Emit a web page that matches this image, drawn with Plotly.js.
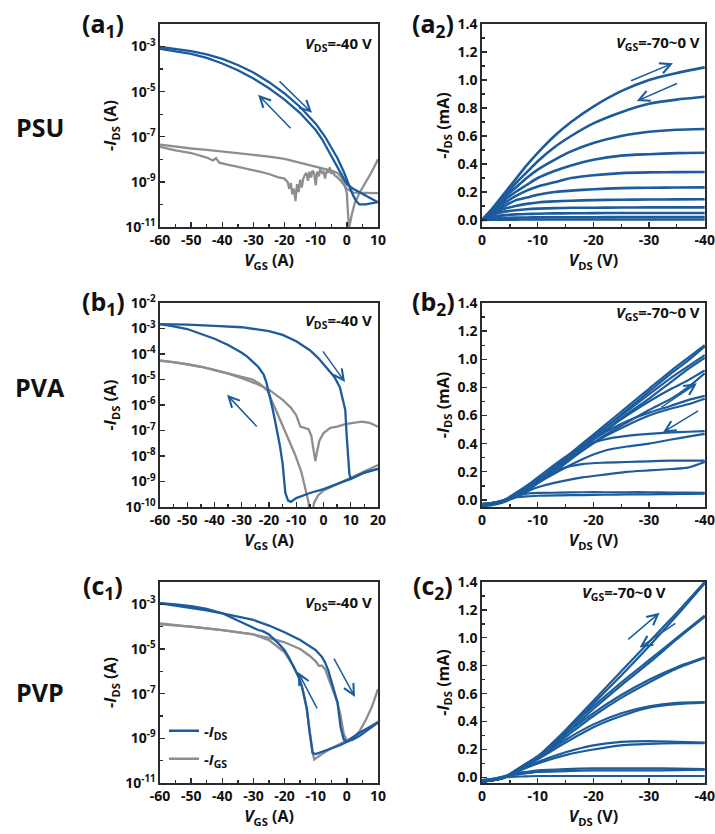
<!DOCTYPE html>
<html><head><meta charset="utf-8">
<script src="https://cdn.plot.ly/plotly-3.0.1.min.js"></script>
<style>html,body{margin:0;padding:0;background:#fff}#g{width:715px;height:834px}</style>
</head><body><div id="g"></div>
<script>
// ---------------- DATA ----------------
// (a1) PSU transfer, V_GS (V) and log10(-I) values
const a1_ids_fwd_v   = [-60,-55,-50,-45,-40,-35,-30,-25,-20,-15,-10,-7,-5,-3,-1,0,1,2,3,4,6,8,10];
const a1_ids_fwd_log = [-3.02,-3.1,-3.2,-3.35,-3.55,-3.82,-4.15,-4.58,-5.08,-5.68,-6.42,-7.0,-7.45,-7.95,-8.55,-8.9,-9.25,-9.6,-9.85,-10.0,-10.0,-9.95,-9.9];
const a1_ids_back_v   = [10,8,6,4,2,0,-2,-4,-6,-8,-10,-15,-20,-25,-30,-35,-40,-45,-50,-55,-60];
const a1_ids_back_log = [-9.9,-9.75,-9.6,-9.45,-9.3,-9.1,-8.6,-8.05,-7.55,-7.1,-6.7,-5.95,-5.35,-4.85,-4.42,-4.05,-3.75,-3.5,-3.32,-3.2,-3.1];
const a1_igs_fwd_v   = [-60,-55,-50,-45,-40,-35,-30,-25,-20,-15,-10,-7,-5,-3,-2,-1,0,0.4,0.8,1.5,2.5,4,6,8,10];
const a1_igs_fwd_log = [-7.35,-7.45,-7.52,-7.58,-7.65,-7.72,-7.8,-7.88,-7.98,-8.15,-8.35,-8.42,-8.5,-8.6,-8.75,-9.0,-9.5,-10.5,-11.0,-10.5,-9.95,-9.5,-9.05,-8.55,-8.0];
const a1_igs_back_v   = [10,8,6,4,2,0,-1,-2,-3,-4,-4.5,-5,-5.5,-6,-6.5,-7,-7.5,-8,-8.5,-9,-9.5,-10,-10.5,-11,-11.5,-12,-12.5,-13,-13.5,-14,-14.5,-15,-15.5,-16,-16.5,-17,-17.5,-18,-18.5,-19,-19.5,-20,-22,-25,-28,-30,-33,-36,-38,-40,-41,-42,-43,-45,-48,-50,-55,-60];
const a1_igs_back_log = [-9.5,-9.5,-9.5,-9.5,-9.48,-9.3,-9.1,-8.95,-8.8,-8.7,-8.5,-8.65,-8.35,-8.6,-8.5,-8.85,-8.55,-8.6,-8.4,-8.75,-8.55,-9.15,-8.6,-8.5,-8.8,-8.55,-8.95,-8.6,-8.7,-8.85,-9.25,-8.9,-9.45,-9.1,-9.85,-9.3,-9.55,-9.05,-9.3,-9.0,-8.95,-8.85,-8.8,-8.65,-8.55,-8.48,-8.4,-8.3,-8.25,-8.2,-8.15,-7.95,-8.05,-7.92,-7.8,-7.72,-7.6,-7.45];

// (b1) PVA transfer
const b1_ids_fwd_v   = [-60,-50,-40,-30,-20,-15,-10,-5,-2,0,2,4,6,7,8,8.5,9,9.5,10,15,20];
const b1_ids_fwd_log = [-2.83,-2.85,-2.9,-2.95,-3.1,-3.25,-3.5,-3.85,-4.15,-4.4,-4.65,-4.9,-5.3,-5.7,-6.2,-7.2,-8.2,-8.7,-8.9,-8.65,-8.5];
const b1_ids_back_v   = [20,15,10,5,0,-5,-10,-12,-13,-14,-14.5,-15,-16,-17,-18,-19,-20,-21,-22,-24,-26,-28,-30,-35,-40,-45,-50,-55,-60];
const b1_ids_back_log = [-8.5,-8.65,-8.9,-9.1,-9.3,-9.45,-9.65,-9.8,-9.75,-9.45,-8.9,-8.3,-7.6,-7.0,-6.5,-6.0,-5.5,-5.1,-4.8,-4.5,-4.3,-4.1,-3.95,-3.65,-3.4,-3.2,-3.02,-2.92,-2.83];
const b1_igs_fwd_v   = [-60,-55,-50,-45,-40,-35,-30,-25,-20,-15,-12,-10,-8.5,-7,-5.5,-4.5,-3.5,-3,-2.5,-1.5,0,2.5,5,8,11,14,17,20];
const b1_igs_fwd_log = [-4.25,-4.32,-4.4,-4.5,-4.62,-4.77,-4.95,-5.15,-5.4,-5.8,-6.1,-6.4,-6.85,-6.9,-6.95,-7.2,-7.8,-8.2,-7.9,-7.4,-7.1,-6.9,-6.85,-6.75,-6.7,-6.65,-6.7,-6.85];
const b1_igs_back_v   = [20,15,10,5,0,-2,-3.5,-4.3,-5,-5.5,-6.6,-8.2,-10.6,-13,-15,-17,-19,-20.5,-23,-26,-30,-35,-40,-45,-50,-55,-60];
const b1_igs_back_log = [-8.35,-8.6,-8.85,-9.1,-9.35,-9.55,-9.85,-10.4,-10.4,-9.8,-9.3,-8.6,-7.9,-7.3,-6.85,-6.3,-5.8,-5.45,-5.2,-5.0,-4.9,-4.75,-4.62,-4.5,-4.4,-4.32,-4.27];

// (c1) PVP transfer
const c1_ids_fwd_v   = [-60,-55,-50,-45,-40,-35,-30,-25,-20,-15,-12,-10,-8,-7,-6,-5,-4,-3,-2,-1,0,2,4,6,8,10];
const c1_ids_fwd_log = [-2.95,-3.05,-3.15,-3.27,-3.4,-3.55,-3.7,-3.95,-4.25,-4.6,-4.85,-5.05,-5.35,-5.6,-5.95,-6.4,-6.85,-7.4,-8.5,-9.05,-9.15,-9.05,-8.9,-8.7,-8.5,-8.3];
const c1_ids_back_v   = [10,8,6,4,2,0,-2,-4,-6,-8,-10,-11,-11.5,-12,-12.8,-13.5,-14.4,-15.5,-17,-18.5,-20,-22,-25,-27,-28.5,-30,-32,-35,-40,-45,-50,-55,-60];
const c1_ids_back_log = [-8.3,-8.45,-8.6,-8.75,-8.95,-9.15,-9.3,-9.4,-9.5,-9.6,-9.7,-9.66,-9.2,-8.7,-7.7,-7.2,-6.7,-6.25,-5.8,-5.4,-5.05,-4.75,-4.35,-4.2,-4.15,-4.05,-3.9,-3.7,-3.4,-3.2,-3.08,-3.0,-2.95];
const c1_igs_fwd_v   = [-60,-50,-40,-30,-25,-20,-15,-12,-10,-9,-8,-7,-6,-5,-4,-3,-2,-1,0,2,4,6,8,10];
const c1_igs_fwd_log = [-3.85,-4.0,-4.15,-4.35,-4.5,-4.7,-5.0,-5.3,-5.55,-5.75,-5.75,-5.9,-6.3,-6.7,-7.0,-7.4,-8.0,-8.8,-9.1,-9.0,-8.7,-8.2,-7.6,-6.8];
const c1_igs_back_v   = [10,5,0,-5,-8,-10,-10.5,-11,-12,-13,-14,-15,-17,-20,-25,-30,-40,-50,-60];
const c1_igs_back_log = [-8.25,-8.7,-9.1,-9.45,-9.7,-9.9,-9.95,-9.6,-8.6,-7.6,-6.9,-6.4,-5.8,-5.15,-4.6,-4.35,-4.15,-4.0,-3.9];

// (a2) PSU output, V_DS grid and -I_DS (mA) for V_GS = -70 ... 0 V
const a2_v = [0,-2,-4,-6,-8,-10,-13,-16,-20,-25,-30,-35,-40];
const a2_i1  = [0,0.09,0.19,0.29,0.39,0.48,0.6,0.7,0.81,0.92,1.0,1.05,1.09];
const a2_i2  = [0,0.085,0.17,0.26,0.34,0.42,0.52,0.6,0.69,0.77,0.83,0.86,0.88];
const a2_i3  = [0,0.08,0.16,0.23,0.3,0.36,0.43,0.49,0.55,0.6,0.63,0.645,0.65];
const a2_i4  = [0,0.07,0.14,0.2,0.25,0.3,0.35,0.39,0.43,0.46,0.47,0.478,0.48];
const a2_i5  = [0,0.065,0.12,0.17,0.21,0.24,0.27,0.3,0.32,0.335,0.34,0.342,0.343];
const a2_i6  = [0,0.06,0.1,0.14,0.16,0.18,0.2,0.21,0.22,0.228,0.23,0.232,0.233];
const a2_i7  = [0,0.05,0.08,0.1,0.115,0.125,0.133,0.138,0.142,0.145,0.146,0.147,0.148];
const a2_i8  = [0,0.04,0.06,0.07,0.077,0.081,0.085,0.087,0.088,0.089,0.09,0.09,0.09];
const a2_i9  = [0,0.025,0.035,0.04,0.043,0.045,0.047,0.048,0.049,0.05,0.05,0.05,0.05];
const a2_i10 = [0,0.01,0.015,0.017,0.018,0.019,0.02,0.02,0.02,0.021,0.021,0.021,0.021];
const a2_i11 = [0,0.002,0.003,0.003,0.004,0.004,0.004,0.004,0.004,0.004,0.004,0.004,0.004];

// (b2) PVA output (forward / backward sweeps)
const b2_v = [0,-2,-4,-6,-8,-10,-14,-18,-22,-26,-30,-34,-37,-40];
const b2_f1 = [-0.045,-0.035,-0.015,0.03,0.08,0.14,0.27,0.4,0.53,0.66,0.79,0.92,1.01,1.1];
const b2_b1 = [-0.04,-0.03,-0.01,0.02,0.07,0.13,0.25,0.38,0.51,0.64,0.77,0.9,0.99,1.09];
const b2_f2 = [-0.04,-0.03,-0.01,0.03,0.08,0.14,0.26,0.39,0.51,0.63,0.75,0.87,0.95,1.03];
const b2_b2 = [-0.035,-0.025,-0.005,0.02,0.07,0.12,0.24,0.37,0.49,0.61,0.72,0.84,0.93,1.01];
const b2_f3 = [-0.04,-0.03,-0.01,0.03,0.08,0.13,0.25,0.37,0.49,0.6,0.7,0.79,0.85,0.92];
const b2_b3 = [-0.03,-0.02,0.0,0.02,0.06,0.12,0.23,0.35,0.46,0.55,0.64,0.72,0.8,0.9];
const b2_f4 = [-0.035,-0.025,-0.01,0.03,0.08,0.13,0.24,0.35,0.45,0.53,0.6,0.65,0.68,0.72];
const b2_b4 = [-0.03,-0.02,0.0,0.03,0.07,0.14,0.26,0.38,0.48,0.56,0.62,0.67,0.71,0.74];
const b2_f5 = [-0.03,-0.02,-0.01,0.03,0.07,0.12,0.21,0.29,0.35,0.38,0.4,0.43,0.45,0.47];
const b2_b5 = [-0.03,-0.02,0.0,0.04,0.1,0.16,0.28,0.38,0.43,0.455,0.47,0.48,0.485,0.49];
const b2_f6 = [-0.03,-0.02,-0.01,0.03,0.06,0.09,0.13,0.16,0.18,0.2,0.21,0.22,0.23,0.27];
const b2_b6 = [-0.03,-0.02,0.0,0.05,0.1,0.15,0.22,0.255,0.265,0.27,0.275,0.28,0.28,0.28];
const b2_f7 = [-0.03,-0.02,-0.01,0.02,0.025,0.03,0.033,0.035,0.037,0.04,0.04,0.042,0.044,0.045];
const b2_b7 = [-0.04,-0.03,0.0,0.03,0.045,0.05,0.052,0.055,0.055,0.055,0.055,0.053,0.052,0.05];

// (c2) PVP output
const c2_v = [0,-2,-4,-6,-8,-10,-15,-20,-25,-30,-35,-40];
const c2_f1 = [-0.03,-0.02,0.0,0.05,0.1,0.15,0.34,0.55,0.76,0.97,1.18,1.4];
const c2_b1 = [-0.03,-0.02,0.0,0.045,0.095,0.145,0.33,0.53,0.73,0.94,1.16,1.39];
const c2_f2 = [-0.03,-0.02,0.0,0.05,0.1,0.15,0.33,0.51,0.68,0.84,1.0,1.16];
const c2_b2 = [-0.03,-0.02,0.0,0.045,0.09,0.14,0.31,0.49,0.66,0.82,0.99,1.15];
const c2_f3 = [-0.03,-0.02,0.0,0.05,0.1,0.15,0.31,0.46,0.59,0.7,0.79,0.86];
const c2_b3 = [-0.03,-0.02,0.0,0.045,0.09,0.14,0.29,0.44,0.57,0.68,0.78,0.855];
const c2_f4 = [-0.03,-0.02,0.0,0.045,0.09,0.14,0.27,0.38,0.46,0.51,0.535,0.54];
const c2_b4 = [-0.03,-0.02,0.0,0.04,0.085,0.13,0.25,0.36,0.44,0.5,0.525,0.535];
const c2_f5 = [-0.03,-0.02,0.0,0.04,0.075,0.11,0.18,0.23,0.255,0.26,0.255,0.25];
const c2_b5 = [-0.03,-0.02,0.0,0.035,0.07,0.1,0.16,0.2,0.23,0.24,0.245,0.245];
const c2_f6 = [-0.02,-0.01,0.01,0.03,0.04,0.05,0.06,0.065,0.065,0.065,0.063,0.06];
const c2_b6 = [-0.02,-0.01,0.005,0.02,0.03,0.04,0.045,0.05,0.05,0.05,0.052,0.055];
const c2_f7 = [-0.02,-0.01,0.0,0.005,0.008,0.01,0.01,0.01,0.01,0.01,0.01,0.01];

// tick labels
const tr_x_a_vals = [-60,-50,-40,-30,-20,-10,0,10];
const tr_x_a_text = ['-60','-50','-40','-30','-20','-10','0','10'];
const tr_x_b_vals = [-60,-50,-40,-30,-20,-10,0,10,20];
const tr_x_b_text = ['-60','-50','-40','-30','-20','-10','0','10','20'];
const log_y_ac_vals = [1e-11,1e-9,1e-7,1e-5,1e-3];
const log_y_ac_text = ['10<sup>-11</sup>','10<sup>-9</sup>','10<sup>-7</sup>','10<sup>-5</sup>','10<sup>-3</sup>'];
const log_y_b_vals = [1e-10,1e-9,1e-8,1e-7,1e-6,1e-5,1e-4,1e-3,1e-2];
const log_y_b_text = ['10<sup>-10</sup>','10<sup>-9</sup>','10<sup>-8</sup>','10<sup>-7</sup>','10<sup>-6</sup>','10<sup>-5</sup>','10<sup>-4</sup>','10<sup>-3</sup>','10<sup>-2</sup>'];
const out_x_vals = [0,-10,-20,-30,-40];
const out_x_text = ['0','-10','-20','-30','-40'];
const out_y_vals = [0,0.2,0.4,0.6,0.8,1.0,1.2,1.4];
const out_y_text = ['0.0','0.2','0.4','0.6','0.8','1.0','1.2','1.4'];

// ---------------- STYLE / LAYOUT ----------------
const W = 715, H = 834;
const BLUE = '#1c5b9c', GRAY = '#8e8e8e';
const FONT = 'Open Sans, Arial, sans-serif';
const pw = p => 10 ** p;
const colX = [[160,378],[482,705]];
const rowY = [[24,227],[303,507],[582,783]];
const dX = c => [colX[c][0]/W, colX[c][1]/W];
const dY = r => [1-rowY[r][1]/H, 1-rowY[r][0]/H];

const traces = [];
function tr(x, y, ax, color, opts) {
  const t = Object.assign({x, y, xaxis:'x'+ax, yaxis:'y'+ax, mode:'lines', hoverinfo:'skip',
    showlegend:false, line:{color, width:2.3}}, opts||{});
  traces.push(t);
}
// transfer panels
tr(a1_igs_fwd_v, a1_igs_fwd_log.map(pw), '', GRAY);
tr(a1_igs_back_v, a1_igs_back_log.map(pw), '', GRAY);
tr(a1_ids_fwd_v, a1_ids_fwd_log.map(pw), '', BLUE);
tr(a1_ids_back_v, a1_ids_back_log.map(pw), '', BLUE);
tr(b1_igs_fwd_v, b1_igs_fwd_log.map(pw), '3', GRAY);
tr(b1_igs_back_v, b1_igs_back_log.map(pw), '3', GRAY);
tr(b1_ids_fwd_v, b1_ids_fwd_log.map(pw), '3', BLUE);
tr(b1_ids_back_v, b1_ids_back_log.map(pw), '3', BLUE);
tr(c1_igs_fwd_v, c1_igs_fwd_log.map(pw), '5', GRAY);
tr(c1_igs_back_v, c1_igs_back_log.map(pw), '5', GRAY, {showlegend:true, name:'-<i>I</i><sub>GS</sub>', legend:'legend2'});
tr(c1_ids_fwd_v, c1_ids_fwd_log.map(pw), '5', BLUE, {showlegend:true, name:'-<i>I</i><sub>DS</sub>', legend:'legend'});
tr(c1_ids_back_v, c1_ids_back_log.map(pw), '5', BLUE);
// output panels
const sp = {shape:'spline', smoothing:0.6};
[a2_i1,a2_i2,a2_i3,a2_i4,a2_i5,a2_i6,a2_i7,a2_i8,a2_i9,a2_i10,a2_i11].forEach(c =>
  tr(a2_v, c, '2', BLUE, {line:Object.assign({color:BLUE, width:2.6}, sp)}));
[b2_f1,b2_b1,b2_f2,b2_b2,b2_f3,b2_b3,b2_f4,b2_b4,b2_f5,b2_b5,b2_f6,b2_b6,b2_f7,b2_b7].forEach(c =>
  tr(b2_v, c, '4', BLUE, {line:Object.assign({color:BLUE, width:2.2}, sp)}));
[c2_f1,c2_b1,c2_f2,c2_b2,c2_f3,c2_b3,c2_f4,c2_b4,c2_f5,c2_b5,c2_f6,c2_b6,c2_f7].forEach(c =>
  tr(c2_v, c, '6', BLUE, {line:Object.assign({color:BLUE, width:2.2}, sp)}));

const tickFont = {family:FONT, size:14, color:'#111', weight:700};
const titleFont = {family:FONT, size:16, color:'#111', weight:700};
function axBase(extra) {
  return Object.assign({showline:true, mirror:true, linecolor:'#2b2b2b', linewidth:1.6,
    ticks:'inside', ticklen:5, tickwidth:1.3, tickcolor:'#2b2b2b', showgrid:false, zeroline:false,
    tickfont:tickFont, tickmode:'array', fixedrange:true}, extra);
}
const minorX = {dtick:5, tick0:0, ticks:'inside', ticklen:3, tickcolor:'#2b2b2b'};
const OUTX = [0.02,-40.06];
const layout = {
  width:W, height:H, margin:{l:0,r:0,t:0,b:0}, paper_bgcolor:'#fff', plot_bgcolor:'#fff',
  font:{family:FONT, color:'#111'},
  legend:{x:164/W, y:1-731/H, xanchor:'left', yanchor:'middle', bgcolor:'rgba(0,0,0,0)', font:{family:FONT,size:15,weight:700,color:'#111'}, itemwidth:30},
  legend2:{x:164/W, y:1-759/H, xanchor:'left', yanchor:'middle', bgcolor:'rgba(0,0,0,0)', font:{family:FONT,size:15,weight:700,color:'#111'}, itemwidth:30},
  xaxis: axBase({domain:dX(0), anchor:'y', range:[-60,10], tickvals:tr_x_a_vals, ticktext:tr_x_a_text, minor:minorX,
    title:{text:'<i>V</i><sub>GS</sub> (A)', font:titleFont, standoff:4}}),
  yaxis: axBase({domain:dY(0), anchor:'x', type:'log', range:[-11,-2], tickvals:log_y_ac_vals, ticktext:log_y_ac_text,
    minor:{tickmode:'array', tickvals:[1e-10,1e-8,1e-6,1e-4,1e-2], ticks:'inside', ticklen:3, tickcolor:'#2b2b2b'},
    title:{text:'-<i>I</i><sub>DS</sub> (A)', font:titleFont, standoff:4}}),
  xaxis2: axBase({domain:dX(1), anchor:'y2', range:OUTX, tickvals:out_x_vals, ticktext:out_x_text, minor:minorX,
    title:{text:'<i>V</i><sub>DS</sub> (V)', font:titleFont, standoff:4}}),
  yaxis2: axBase({domain:dY(0), anchor:'x2', range:[-0.05,1.4], tickvals:out_y_vals, ticktext:out_y_text, minor:{dtick:0.1, tick0:0, ticks:'inside', ticklen:3, tickcolor:'#2b2b2b'},
    title:{text:'-<i>I</i><sub>DS</sub> (mA)', font:titleFont, standoff:4}}),
  xaxis3: axBase({domain:dX(0), anchor:'y3', range:[-60,20], tickvals:tr_x_b_vals, ticktext:tr_x_b_text, minor:minorX,
    title:{text:'<i>V</i><sub>GS</sub> (A)', font:titleFont, standoff:4}}),
  yaxis3: axBase({domain:dY(1), anchor:'x3', type:'log', range:[-10,-2], tickvals:log_y_b_vals, ticktext:log_y_b_text,
    title:{text:'-<i>I</i><sub>DS</sub> (A)', font:titleFont, standoff:4}}),
  xaxis4: axBase({domain:dX(1), anchor:'y4', range:OUTX, tickvals:out_x_vals, ticktext:out_x_text, minor:minorX,
    title:{text:'<i>V</i><sub>DS</sub> (V)', font:titleFont, standoff:4}}),
  yaxis4: axBase({domain:dY(1), anchor:'x4', range:[-0.05,1.4], tickvals:out_y_vals, ticktext:out_y_text, minor:{dtick:0.1, tick0:0, ticks:'inside', ticklen:3, tickcolor:'#2b2b2b'},
    title:{text:'-<i>I</i><sub>DS</sub> (mA)', font:titleFont, standoff:4}}),
  xaxis5: axBase({domain:dX(0), anchor:'y5', range:[-60,10], tickvals:tr_x_a_vals, ticktext:tr_x_a_text, minor:minorX,
    title:{text:'<i>V</i><sub>GS</sub> (A)', font:titleFont, standoff:4}}),
  yaxis5: axBase({domain:dY(2), anchor:'x5', type:'log', range:[-11,-2], tickvals:log_y_ac_vals, ticktext:log_y_ac_text,
    minor:{tickmode:'array', tickvals:[1e-10,1e-8,1e-6,1e-4,1e-2], ticks:'inside', ticklen:3, tickcolor:'#2b2b2b'},
    title:{text:'-<i>I</i><sub>DS</sub> (A)', font:titleFont, standoff:4}}),
  xaxis6: axBase({domain:dX(1), anchor:'y6', range:OUTX, tickvals:out_x_vals, ticktext:out_x_text, minor:minorX,
    title:{text:'<i>V</i><sub>DS</sub> (V)', font:titleFont, standoff:4}}),
  yaxis6: axBase({domain:dY(2), anchor:'x6', range:[-0.04,1.4], tickvals:out_y_vals, ticktext:out_y_text, minor:{dtick:0.1, tick0:0, ticks:'inside', ticklen:3, tickcolor:'#2b2b2b'},
    title:{text:'-<i>I</i><sub>DS</sub> (mA)', font:titleFont, standoff:4}}),
  annotations:[]
};

const P = (px, py) => ({x:px/W, y:1-py/H});
function txt(px, py, text, size, anchor) {
  const p = P(px, py);
  layout.annotations.push({xref:'paper', yref:'paper', x:p.x, y:p.y, text, showarrow:false,
    xanchor:anchor||'center', yanchor:'middle', font:{family:FONT, size, color:'#111', weight:700}});
}
// panel labels and row labels
txt(103, 24, '(a<sub>1</sub>)', 25); txt(433, 24, '(a<sub>2</sub>)', 25);
txt(103, 303, '(b<sub>1</sub>)', 25); txt(433, 303, '(b<sub>2</sub>)', 25);
txt(103, 586, '(c<sub>1</sub>)', 25); txt(433, 586, '(c<sub>2</sub>)', 25);
txt(40, 127, 'PSU', 25); txt(40, 387, 'PVA', 25); txt(40, 692, 'PVP', 25);
// condition labels
txt(374, 44, '<i>V</i><sub>DS</sub>=-40 V', 15, 'right');
txt(374, 321, '<i>V</i><sub>DS</sub>=-40 V', 15, 'right');
txt(374, 603, '<i>V</i><sub>DS</sub>=-40 V', 15, 'right');
txt(702, 43, '<i>V</i><sub>GS</sub>=-70~0 V', 15, 'right');
txt(702, 313, '<i>V</i><sub>GS</sub>=-70~0 V', 15, 'right');
txt(668, 593, '<i>V</i><sub>GS</sub>=-70~0 V', 15, 'right');

// sweep-direction arrows: [axis suffix, tail x, tail y, head x, head y] (log axes in decades)
const arrows = [
  ['', -22.1, -4.48, -11.2, -5.94], ['', -17.6, -6.69, -28.5, -5.14],
  ['2', -26.5, 0.99, -34.3, 1.12], ['2', -35.3, 0.98, -27.8, 0.85],
  ['3', -0.6, -3.84, 7.9, -5.1], ['3', -24, -6.9, -35.4, -5.6],
  ['4', -31.9, 0.65, -38.6, 0.83], ['4', -39.1, 0.64, -32.5, 0.48],
  ['5', -9.3, -7.73, -15.7, -6.03], ['5', -4.4, -5.36, 2.6, -7.15],
  ['6', -26, 0.98, -31.9, 1.18], ['6', -35, 1.11, -28.3, 0.93]
];
arrows.forEach(a => layout.annotations.push({xref:'x'+a[0], yref:'y'+a[0], axref:'x'+a[0], ayref:'y'+a[0],
  x:a[3], y:a[4], ax:a[1], ay:a[2], text:'', showarrow:true, arrowhead:5, arrowsize:1.4, arrowwidth:1.5, arrowcolor:BLUE}));

Plotly.newPlot('g', traces, layout, {staticPlot:true, displayModeBar:false});
</script></body></html>
